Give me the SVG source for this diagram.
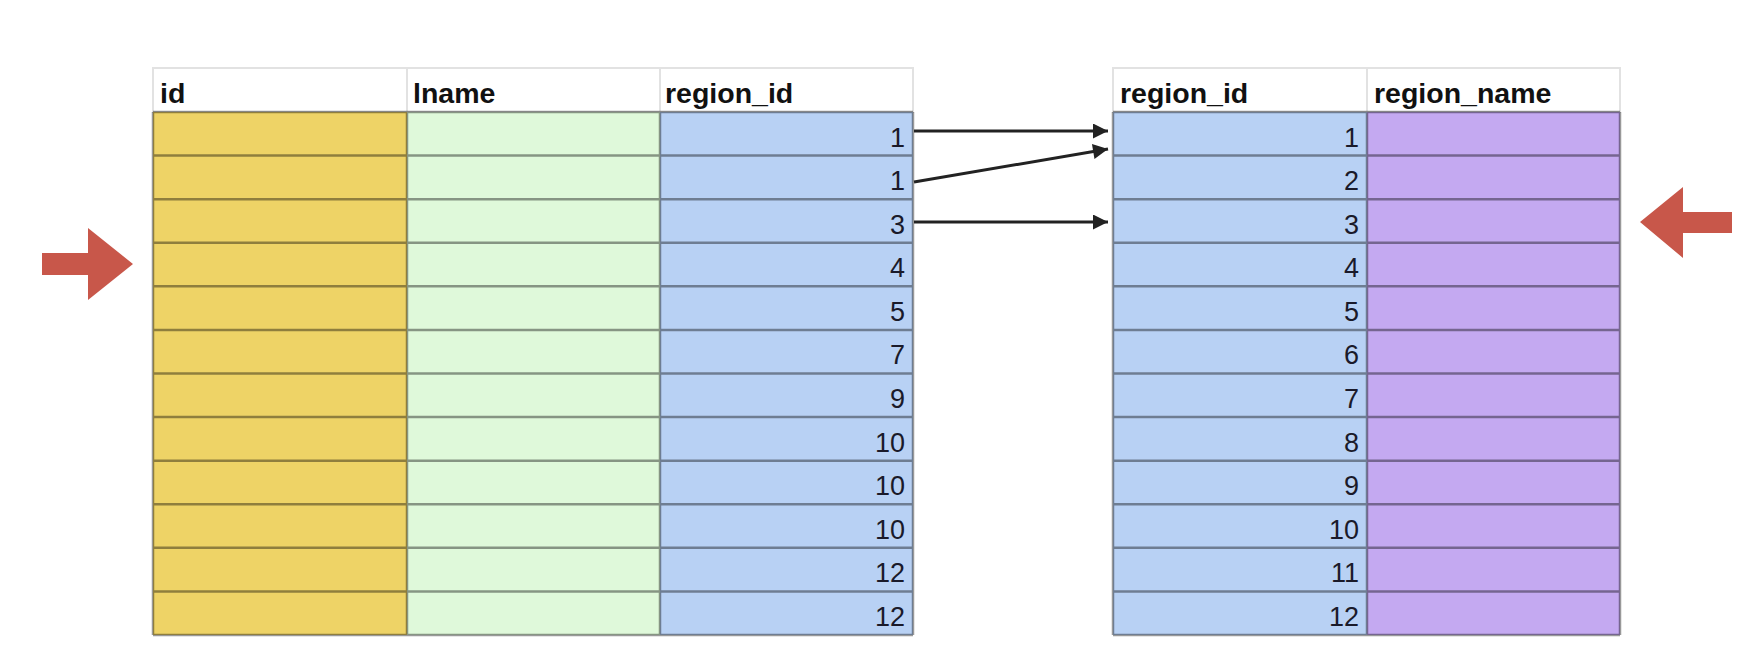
<svg xmlns="http://www.w3.org/2000/svg" width="1750" height="660" viewBox="0 0 1750 660">
<style>
.hd{fill:#fff;stroke:#e2e2e2;stroke-width:2}
.ht{font-family:"Liberation Sans",Arial,sans-serif;font-weight:bold;font-size:28.5px;fill:#111}
.nt{font-family:"Liberation Sans",Arial,sans-serif;font-size:27px;fill:#1a1a2a;text-anchor:end}
.y{fill:#EED366}
.g{fill:#DFF9DA}
.b{fill:#B8D1F4}
.p{fill:#C4A9F1}
.gl{stroke:#000;stroke-opacity:0.4;stroke-width:2.5;fill:none}
.cn{stroke:#222;stroke-width:3;fill:none;marker-end:url(#ah)}
.red{fill:#C8574A}
</style>
<defs>
<marker id="ah" viewBox="0 0 10 10" refX="10" refY="5" markerWidth="5.5" markerHeight="5" markerUnits="strokeWidth" orient="auto">
<path d="M0,0 L10,5 L0,10 z" fill="#222"/>
</marker>
</defs>
<rect width="1750" height="660" fill="#fff"/>

<g id="left-table">
<rect class="hd" x="153" y="68" width="254" height="44"/>
<rect class="hd" x="407" y="68" width="253" height="44"/>
<rect class="hd" x="660" y="68" width="253" height="44"/>
<text class="ht" x="160" y="103">id</text>
<text class="ht" x="413" y="103">lname</text>
<text class="ht" x="665" y="103">region_id</text>
<rect class="y" x="153" y="112" width="254" height="523"/>
<rect class="g" x="407" y="112" width="253" height="523"/>
<rect class="b" x="660" y="112" width="253" height="523"/>
<path class="gl" d="M153,112H913M153,155.6H913M153,199.2H913M153,242.8H913M153,286.3H913M153,329.9H913M153,373.5H913M153,417.1H913M153,460.7H913M153,504.3H913M153,547.8H913M153,591.4H913M153,635H913M153,112V635M407,112V635M660,112V635M913,112V635"/>
<g class="nt">
<text x="905" y="146.5">1</text>
<text x="905" y="190.1">1</text>
<text x="905" y="233.7">3</text>
<text x="905" y="277.3">4</text>
<text x="905" y="320.8">5</text>
<text x="905" y="364.4">7</text>
<text x="905" y="408">9</text>
<text x="905" y="451.6">10</text>
<text x="905" y="495.2">10</text>
<text x="905" y="538.8">10</text>
<text x="905" y="582.3">12</text>
<text x="905" y="625.9">12</text>
</g>
</g>

<g id="right-table">
<rect class="hd" x="1113" y="68" width="254" height="44"/>
<rect class="hd" x="1367" y="68" width="253" height="44"/>
<text class="ht" x="1120" y="103">region_id</text>
<text class="ht" x="1374" y="103">region_name</text>
<rect class="b" x="1113" y="112" width="254" height="523"/>
<rect class="p" x="1367" y="112" width="253" height="523"/>
<path class="gl" d="M1113,112H1620M1113,155.6H1620M1113,199.2H1620M1113,242.8H1620M1113,286.3H1620M1113,329.9H1620M1113,373.5H1620M1113,417.1H1620M1113,460.7H1620M1113,504.3H1620M1113,547.8H1620M1113,591.4H1620M1113,635H1620M1113,112V635M1367,112V635M1620,112V635"/>
<g class="nt">
<text x="1359" y="146.5">1</text>
<text x="1359" y="190.1">2</text>
<text x="1359" y="233.7">3</text>
<text x="1359" y="277.3">4</text>
<text x="1359" y="320.8">5</text>
<text x="1359" y="364.4">6</text>
<text x="1359" y="408">7</text>
<text x="1359" y="451.6">8</text>
<text x="1359" y="495.2">9</text>
<text x="1359" y="538.8">10</text>
<text x="1359" y="582.3">11</text>
<text x="1359" y="625.9">12</text>
</g>
</g>

<g id="connectors">
<line class="cn" x1="914" y1="131" x2="1108" y2="131"/>
<line class="cn" x1="914" y1="182" x2="1108" y2="149"/>
<line class="cn" x1="914" y1="222" x2="1108" y2="222"/>
</g>

<g id="left-red-arrow">
<polygon class="red" points="42,253 88,253 88,228 133,264 88,300 88,275 42,275"/>
</g>
<g id="right-red-arrow">
<polygon class="red" points="1732,212 1683,212 1683,187 1640,222 1683,258 1683,233 1732,233"/>
</g>
</svg>
